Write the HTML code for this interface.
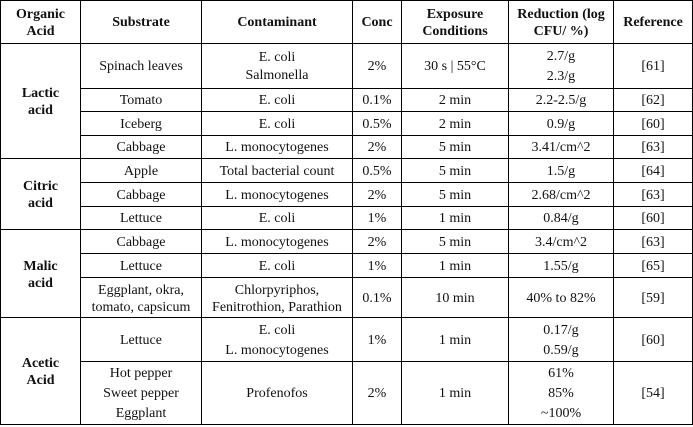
<!DOCTYPE html>
<html><head><style>
body{margin:0;background:#fff;width:693px;height:427px;position:relative;overflow:hidden}
div.c{position:absolute;box-sizing:border-box;border:1px solid #000;padding-top:2px;display:flex;align-items:center;justify-content:center;text-align:center;font-family:"Liberation Serif","Times New Roman",serif;font-size:14px;line-height:20px;color:#111}
.b{font-weight:bold}
.a{left:0;width:81px}.s{left:80px;width:122px}.t{left:201px;width:152px}.k{left:352px;width:50px}.e{left:401px;width:108px}.r{left:508px;width:106px}.f{left:613px;width:80px}
</style></head><body>
<div class="c a b" style="top:0;height:44px;line-height:17px">Organic<br>Acid</div>
<div class="c s b" style="top:0;height:44px">Substrate</div>
<div class="c t b" style="top:0;height:44px">Contaminant</div>
<div class="c k b" style="top:0;height:44px">Conc</div>
<div class="c e b" style="top:0;height:44px;line-height:17px">Exposure<br>Conditions</div>
<div class="c r b" style="top:0;height:44px;line-height:17px">Reduction (log<br>CFU/ %)</div>
<div class="c f b" style="top:0;height:44px">Reference</div>

<div class="c a b" style="top:43px;height:116px;line-height:17px">Lactic<br>acid</div>
<div class="c a b" style="top:158px;height:72px;line-height:17px">Citric<br>acid</div>
<div class="c a b" style="top:229px;height:89px;line-height:17px">Malic<br>acid</div>
<div class="c a b" style="top:317px;height:108px;line-height:17px">Acetic<br>Acid</div>

<div class="c s" style="top:43px;height:46px">Spinach leaves</div>
<div class="c t" style="top:43px;height:46px;line-height:18px">E. coli<br>Salmonella</div>
<div class="c k" style="top:43px;height:46px">2%</div>
<div class="c e" style="top:43px;height:46px">30 s | 55°C</div>
<div class="c r" style="top:43px;height:46px">2.7/g<br>2.3/g</div>
<div class="c f" style="top:43px;height:46px">[61]</div>

<div class="c s" style="top:88px;height:24px">Tomato</div>
<div class="c t" style="top:88px;height:24px">E. coli</div>
<div class="c k" style="top:88px;height:24px">0.1%</div>
<div class="c e" style="top:88px;height:24px">2 min</div>
<div class="c r" style="top:88px;height:24px">2.2-2.5/g</div>
<div class="c f" style="top:88px;height:24px">[62]</div>

<div class="c s" style="top:111px;height:25px">Iceberg</div>
<div class="c t" style="top:111px;height:25px">E. coli</div>
<div class="c k" style="top:111px;height:25px">0.5%</div>
<div class="c e" style="top:111px;height:25px">2 min</div>
<div class="c r" style="top:111px;height:25px">0.9/g</div>
<div class="c f" style="top:111px;height:25px">[60]</div>

<div class="c s" style="top:135px;height:24px">Cabbage</div>
<div class="c t" style="top:135px;height:24px">L. monocytogenes</div>
<div class="c k" style="top:135px;height:24px">2%</div>
<div class="c e" style="top:135px;height:24px">5 min</div>
<div class="c r" style="top:135px;height:24px">3.41/cm^2</div>
<div class="c f" style="top:135px;height:24px">[63]</div>

<div class="c s" style="top:158px;height:25px">Apple</div>
<div class="c t" style="top:158px;height:25px">Total bacterial count</div>
<div class="c k" style="top:158px;height:25px">0.5%</div>
<div class="c e" style="top:158px;height:25px">5 min</div>
<div class="c r" style="top:158px;height:25px">1.5/g</div>
<div class="c f" style="top:158px;height:25px">[64]</div>

<div class="c s" style="top:182px;height:25px">Cabbage</div>
<div class="c t" style="top:182px;height:25px">L. monocytogenes</div>
<div class="c k" style="top:182px;height:25px">2%</div>
<div class="c e" style="top:182px;height:25px">5 min</div>
<div class="c r" style="top:182px;height:25px">2.68/cm^2</div>
<div class="c f" style="top:182px;height:25px">[63]</div>

<div class="c s" style="top:206px;height:24px">Lettuce</div>
<div class="c t" style="top:206px;height:24px">E. coli</div>
<div class="c k" style="top:206px;height:24px">1%</div>
<div class="c e" style="top:206px;height:24px">1 min</div>
<div class="c r" style="top:206px;height:24px">0.84/g</div>
<div class="c f" style="top:206px;height:24px">[60]</div>

<div class="c s" style="top:229px;height:25px">Cabbage</div>
<div class="c t" style="top:229px;height:25px">L. monocytogenes</div>
<div class="c k" style="top:229px;height:25px">2%</div>
<div class="c e" style="top:229px;height:25px">5 min</div>
<div class="c r" style="top:229px;height:25px">3.4/cm^2</div>
<div class="c f" style="top:229px;height:25px">[63]</div>

<div class="c s" style="top:253px;height:25px">Lettuce</div>
<div class="c t" style="top:253px;height:25px">E. coli</div>
<div class="c k" style="top:253px;height:25px">1%</div>
<div class="c e" style="top:253px;height:25px">1 min</div>
<div class="c r" style="top:253px;height:25px">1.55/g</div>
<div class="c f" style="top:253px;height:25px">[65]</div>

<div class="c s" style="top:277px;height:41px;line-height:17px">Eggplant, okra,<br>tomato, capsicum</div>
<div class="c t" style="top:277px;height:41px;line-height:17px;white-space:nowrap">Chlorpyriphos,<br>Fenitrothion, Parathion</div>
<div class="c k" style="top:277px;height:41px">0.1%</div>
<div class="c e" style="top:277px;height:41px">10 min</div>
<div class="c r" style="top:277px;height:41px">40% to 82%</div>
<div class="c f" style="top:277px;height:41px">[59]</div>

<div class="c s" style="top:317px;height:45px">Lettuce</div>
<div class="c t" style="top:317px;height:45px">E. coli<br>L. monocytogenes</div>
<div class="c k" style="top:317px;height:45px">1%</div>
<div class="c e" style="top:317px;height:45px">1 min</div>
<div class="c r" style="top:317px;height:45px">0.17/g<br>0.59/g</div>
<div class="c f" style="top:317px;height:45px">[60]</div>

<div class="c s" style="top:361px;height:64px">Hot pepper<br>Sweet pepper<br>Eggplant</div>
<div class="c t" style="top:361px;height:64px">Profenofos</div>
<div class="c k" style="top:361px;height:64px">2%</div>
<div class="c e" style="top:361px;height:64px">1 min</div>
<div class="c r" style="top:361px;height:64px">61%<br>85%<br>~100%</div>
<div class="c f" style="top:361px;height:64px">[54]</div>
</body></html>
